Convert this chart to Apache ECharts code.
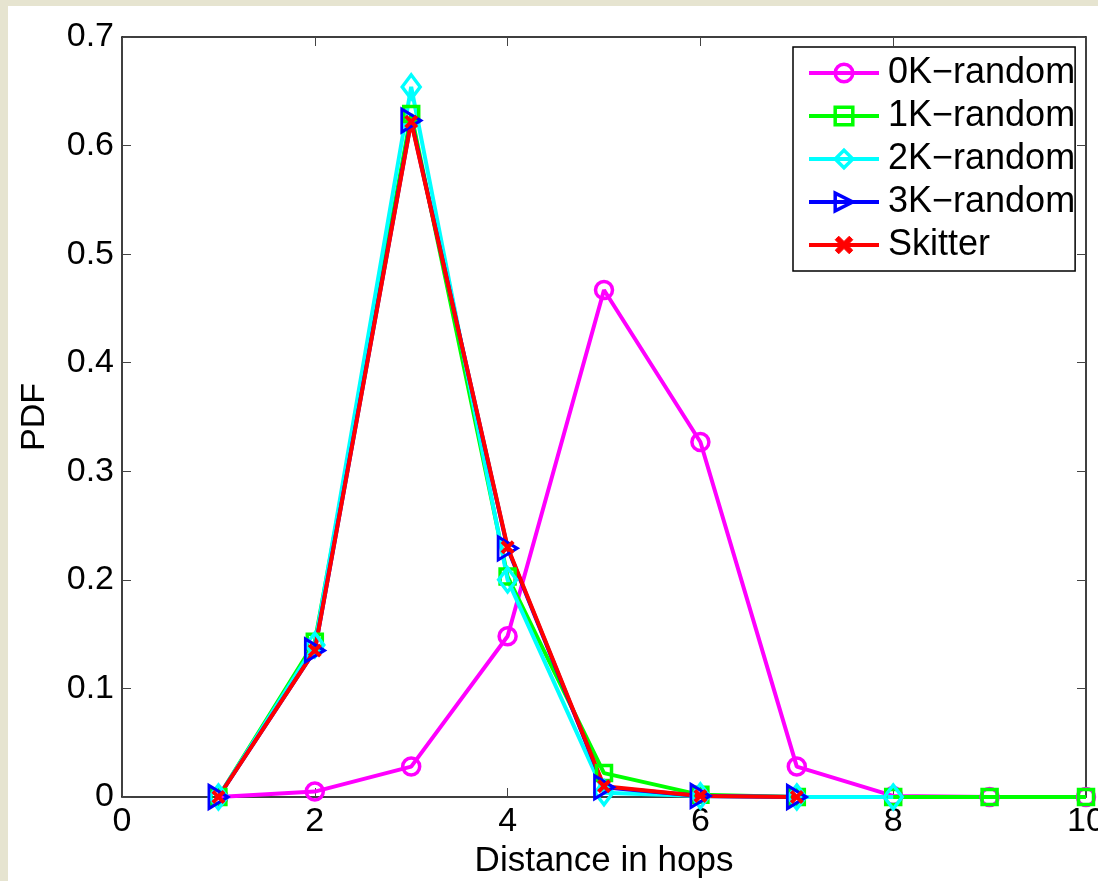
<!DOCTYPE html>
<html><head><meta charset="utf-8">
<script src="https://cdn.jsdelivr.net/npm/echarts@6/dist/echarts.min.js"></script>
<style>
html,body{margin:0;padding:0;background:#e6e4d0;overflow:hidden;}
#paper{position:absolute;left:8px;top:6px;width:1090px;height:875px;background:#fff;}
#chart{position:absolute;left:0;top:0;width:1098px;height:881px;}
</style></head><body>
<div id="paper"></div><div id="chart"></div>
<script>
// ---- data ----
const hops = [1, 2, 3, 4, 5, 6, 7, 8, 9, 10];
const k0random = [0, 0.005, 0.028, 0.148, 0.467, 0.327, 0.028, 0.001, 0, 0];
const k1random = [0, 0.143, 0.629, 0.203, 0.022, 0.002, 0, 0, 0, 0];
const k2random = [0, 0.140, 0.654, 0.200, 0.004, 0.001, 0, 0];
const k3random = [0, 0.135, 0.623, 0.229, 0.009, 0.001, 0];
const skitter = [0, 0.135, 0.622, 0.230, 0.010, 0.001, 0];
const seriesNames = ['0K\u2212random', '1K\u2212random', '2K\u2212random', '3K\u2212random', 'Skitter'];
const yTickLabels = ['0', '0.1', '0.2', '0.3', '0.4', '0.5', '0.6', '0.7'];
const xTickLabels = ['0', '2', '4', '6', '8', '10'];
const xName = 'Distance in hops';
const yName = 'PDF';

function pairs(vals) { return vals.map((v, i) => [hops[i], v]); }

const FONT = 'Liberation Sans, Arial, Helvetica, sans-serif';
const FS = 34;
const LW = 4;
const colors = ['#ff00ff', '#00ff00', '#00ffff', '#0000ff', '#ff0000'];

const chart = echarts.init(document.getElementById('chart'), null, {renderer: 'canvas'});

const axisLine = {show: true, onZero: false, lineStyle: {color: '#000', width: 1.5}};
const axisTick = {show: true, inside: true, length: 9, lineStyle: {color: '#444', width: 1}};

function mkSeries(name, vals, color, symbol, size, extra) {
  return Object.assign({
    name: name,
    type: 'line',
    data: pairs(vals),
    symbol: symbol,
    symbolSize: size,
    showSymbol: true,
    showAllSymbol: true,
    animation: false,
    lineStyle: {color: color, width: LW},
    itemStyle: {color: 'transparent', borderColor: color, borderWidth: 3.5},
    emphasis: {disabled: true},
    z: 2
  }, extra || {});
}

const legendData = seriesNames.map((n, i) => ({
  name: n,
  itemStyle: i === 4
    ? {color: colors[i], borderColor: colors[i], borderWidth: 1}
    : {color: 'transparent', borderColor: colors[i], borderWidth: 3.5},
  lineStyle: {color: colors[i], width: LW}
}));

const option = {
  animation: false,
  backgroundColor: 'transparent',
  grid: {left: 122, top: 37, right: 12, bottom: 84, containLabel: false, outerBoundsMode: 'none'},
  xAxis: [{
    type: 'value', min: 0, max: 10, interval: 2, position: 'bottom',
    axisLine: axisLine, axisTick: axisTick, splitLine: {show: false},
    axisLabel: {color: '#000', fontFamily: FONT, fontSize: FS, margin: 8,
      formatter: v => xTickLabels[Math.round(v / 2)]},
    name: xName, nameLocation: 'middle', nameGap: 42,
    nameTextStyle: {color: '#000', fontFamily: FONT, fontSize: 35}
  }, {
    type: 'value', min: 0, max: 10, interval: 2, position: 'top',
    axisLine: axisLine, axisTick: axisTick, splitLine: {show: false},
    axisLabel: {show: false}
  }],
  yAxis: [{
    type: 'value', min: 0, max: 0.7, interval: 0.1, position: 'left',
    axisLine: axisLine, axisTick: axisTick, splitLine: {show: false},
    axisLabel: {color: '#000', fontFamily: FONT, fontSize: FS, margin: 8,
      formatter: v => yTickLabels[Math.round(v * 10)]},
    name: yName, nameLocation: 'middle', nameGap: 70,
    nameTextStyle: {color: '#000', fontFamily: FONT, fontSize: FS}
  }, {
    type: 'value', min: 0, max: 0.7, interval: 0.1, position: 'right',
    axisLine: axisLine, axisTick: axisTick, splitLine: {show: false},
    axisLabel: {show: false}
  }],
  legend: {
    orient: 'vertical',
    left: 793, top: 47,
    padding: [8, 0, 8, 14],
    itemGap: 7,
    itemWidth: 70,
    itemHeight: 22,
    backgroundColor: '#fff',
    borderColor: '#000',
    borderWidth: 1.5,
    borderRadius: 0,
    textStyle: {color: '#000', fontFamily: FONT, fontSize: 36, lineHeight: 36, padding: [0, 0, 0, 4]},
    data: legendData
  },
  series: [
    mkSeries(seriesNames[0], k0random, colors[0], 'circle', 17),
    mkSeries(seriesNames[1], k1random, colors[1], 'rect', 15),
    mkSeries(seriesNames[2], k2random, colors[2], 'diamond', [18, 24]),
    mkSeries(seriesNames[3], k3random, colors[3], 'triangle', [23, 19], {symbolRotate: -90, itemStyle: {color: 'transparent', borderColor: colors[3], borderWidth: 3}}),
    mkSeries(seriesNames[4], skitter, colors[4],
      'path://M0,2 L2,0 L5,3 L8,0 L10,2 L7,5 L10,8 L8,10 L5,7 L2,10 L0,8 L3,5 Z', 14,
      {itemStyle: {color: colors[4], borderWidth: 0}})
  ]
};
chart.setOption(option);
</script>
</body></html>
